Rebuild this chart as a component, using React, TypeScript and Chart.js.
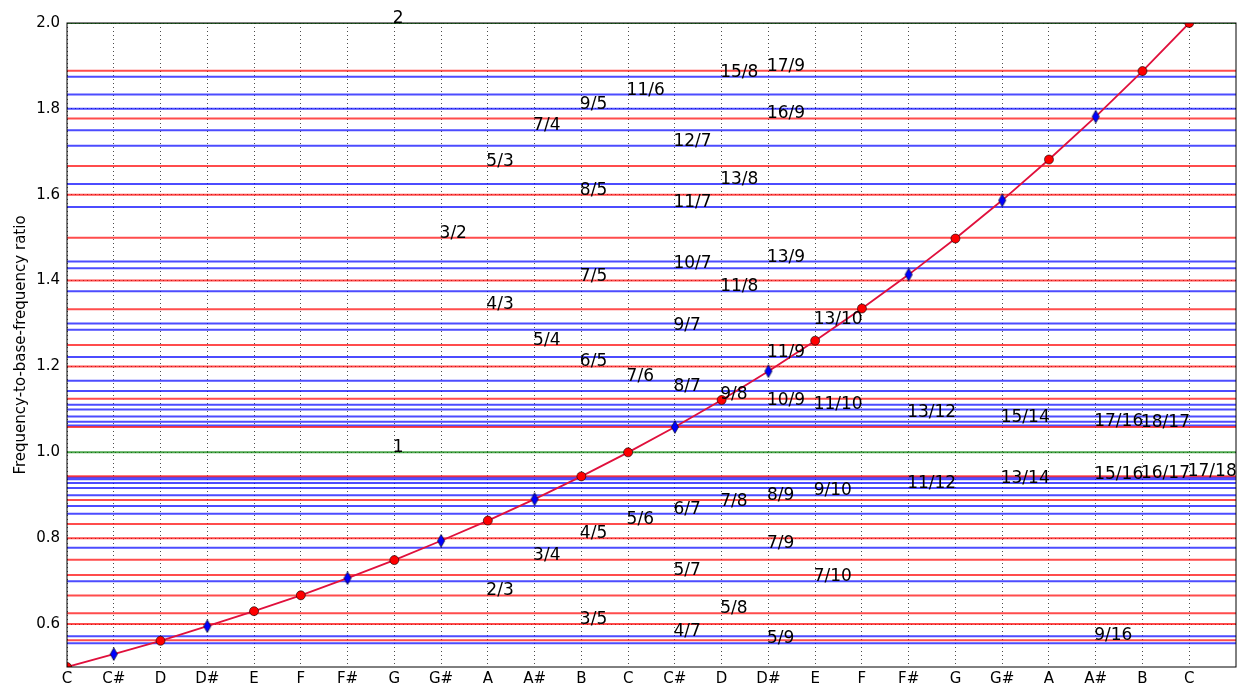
import { useEffect, useRef } from 'react';
import { Chart, registerables } from 'chart.js';

Chart.register(...registerables);

// x-axis categories (notes over two octaves)
const noteNames = ['C', 'C#', 'D', 'D#', 'E', 'F', 'F#', 'G', 'G#', 'A', 'A#', 'B',
  'C', 'C#', 'D', 'D#', 'E', 'F', 'F#', 'G', 'G#', 'A', 'A#', 'B', 'C'];
// equal-tempered frequency ratios
const noteRatios = [0.5, 0.53, 0.561, 0.595, 0.63, 0.667, 0.707, 0.749, 0.794, 0.841, 0.891, 0.944,
  1.0, 1.059, 1.122, 1.189, 1.26, 1.335, 1.414, 1.498, 1.587, 1.682, 1.782, 1.888, 2.0];
const yTicks = [0.6, 0.8, 1.0, 1.2, 1.4, 1.6, 1.8, 2.0];

// just-intonation ratios drawn as horizontal lines
const unisonRatios = ['1', '2'];
const nearestRatios = ['18/17', '9/8', '6/5', '5/4', '4/3', '7/5', '3/2', '8/5', '5/3', '16/9', '17/9',
  '17/18', '8/9', '5/6', '4/5', '3/4', '5/7', '2/3', '5/8', '3/5', '9/16'];
const otherRatios = ['17/16', '15/14', '13/12', '11/10', '10/9', '8/7', '7/6', '11/9', '9/7', '13/10',
  '11/8', '10/7', '13/9', '11/7', '13/8', '12/7', '7/4', '9/5', '11/6', '15/8',
  '16/17', '15/16', '13/14', '11/12', '9/10', '7/8', '6/7', '7/9', '7/10', '4/7', '5/9'];

const FONT = 'DejaVu Sans';

function parseRatio(s: string) {
  const [n, d] = s.split('/');
  const num = Number(n);
  const den = d ? Number(d) : 1;
  return { label: s, value: num / den, den };
}

function makeDiamond(): HTMLCanvasElement {
  const c = document.createElement('canvas');
  c.width = 10;
  c.height = 14;
  const g = c.getContext('2d')!;
  g.beginPath();
  g.moveTo(5, 0.6);
  g.lineTo(8.6, 7);
  g.lineTo(5, 13.4);
  g.lineTo(1.4, 7);
  g.closePath();
  g.fillStyle = '#0000ff';
  g.fill();
  g.strokeStyle = '#000';
  g.lineWidth = 0.6;
  g.stroke();
  return c;
}

export default function App() {
  const ref = useRef<HTMLCanvasElement>(null);

  useEffect(() => {
    const canvas = ref.current!;
    const diamond = makeDiamond();

    const lineDs = (list: string[], color: string) =>
      list.map((s) => {
        const r = parseRatio(s);
        return {
          type: 'line' as const,
          data: [{ x: 0, y: r.value }, { x: 25, y: r.value }],
          borderColor: color,
          borderWidth: 2,
          pointRadius: 0,
          fill: false,
        };
      });

    const allLabels = [...unisonRatios, ...nearestRatios, ...otherRatios].map(parseRatio);

    const labelPlugin = {
      id: 'ratioLabels',
      afterDatasetsDraw(chart: any) {
        const { ctx, chartArea, scales } = chart;
        ctx.save();
        ctx.strokeStyle = '#000';
        ctx.lineWidth = 1;
        ctx.strokeRect(chartArea.left, chartArea.top, chartArea.right - chartArea.left, chartArea.bottom - chartArea.top);
        ctx.fillStyle = '#000';
        ctx.font = `17px "${FONT}"`;
        ctx.textAlign = 'left';
        ctx.textBaseline = 'alphabetic';
        for (const r of allLabels) {
          const x = scales.x.getPixelForValue(r.den + 6) - 1.5;
          const y = scales.y.getPixelForValue(r.value);
          ctx.fillText(r.label, x, y);
        }
        ctx.restore();
      },
    };

    const chart = new Chart(canvas, {
      type: 'line',
      data: {
        datasets: [
          {
            data: noteRatios.map((v, i) => ({ x: i, y: v })),
            borderColor: '#e0103c',
            borderWidth: 1.8,
            pointStyle: noteNames.map((n) => (n.includes('#') ? diamond : 'circle')) as any,
            pointRadius: 4.5,
            pointBackgroundColor: '#ff0000',
            pointBorderColor: '#000',
            pointBorderWidth: 0.6,
            clip: 0,
          } as any,
          ...lineDs(unisonRatios, 'rgba(0,128,0,0.7)'),
          ...lineDs(nearestRatios, 'rgba(255,0,0,0.7)'),
          ...lineDs(otherRatios, 'rgba(0,0,255,0.7)'),
        ],
      },
      options: {
        animation: false,
        responsive: false,
        layout: { padding: { top: 23, right: 8, left: 0, bottom: 0 } },
        plugins: { legend: { display: false }, tooltip: { enabled: false } },
        scales: {
          x: {
            type: 'linear',
            min: 0,
            max: 25,
            afterBuildTicks: (scale: any) => {
              scale.ticks = noteNames.map((_, i) => ({ value: i }));
            },
            afterFit: (scale: any) => {
              scale.height = 22;
            },
            ticks: {
              autoSkip: false,
              maxRotation: 0,
              padding: 3,
              color: '#000',
              font: { family: FONT, size: 15 },
              callback: (v: any) => noteNames[v] ?? '',
            },
            grid: { color: 'rgba(0,0,0,0.7)', lineWidth: 1, drawTicks: false },
            border: { display: false, dash: [1, 3] },
          },
          y: {
            type: 'linear',
            min: 0.5,
            max: 2.0,
            afterBuildTicks: (scale: any) => {
              scale.ticks = yTicks.map((v) => ({ value: v }));
            },
            afterFit: (scale: any) => {
              scale.width = 67;
            },
            ticks: {
              padding: 7,
              color: '#000',
              font: { family: FONT, size: 15 },
              callback: (v: any) => Number(v).toFixed(1),
            },
            grid: { color: 'rgba(0,0,0,0.7)', lineWidth: 1, drawTicks: false },
            border: { display: false, dash: [1, 3] },
            title: {
              display: true,
              text: 'Frequency-to-base-frequency ratio',
              color: '#000',
              font: { family: FONT, size: 15 },
              padding: { top: 12, bottom: 0 },
            },
          },
        },
      },
      plugins: [labelPlugin],
    } as any);

    return () => chart.destroy();
  }, []);

  return (
    <div style={{ position: 'absolute', left: 0, top: 0, width: 1244, height: 689, background: '#fff' }}>
      <canvas ref={ref} width={1244} height={689} style={{ display: 'block' }} />
    </div>
  );
}
